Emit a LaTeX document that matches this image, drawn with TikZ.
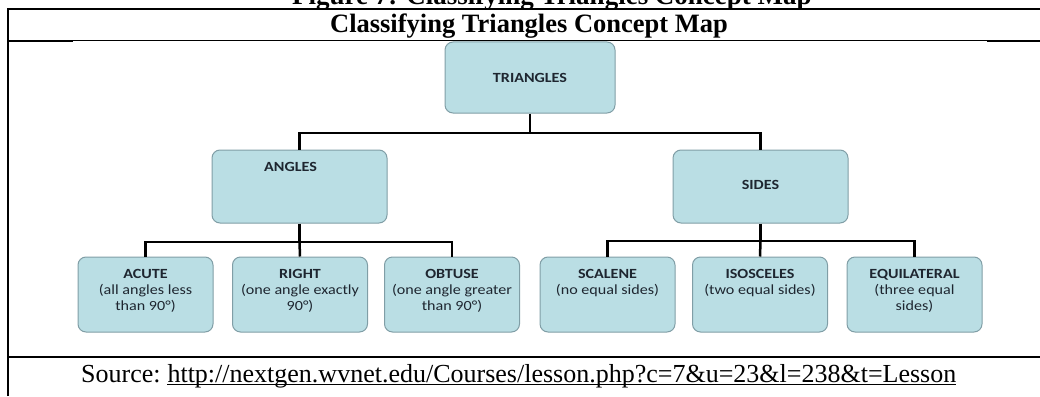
\documentclass[tikz,border=0pt]{standalone}
\usepackage{fontspec}
\setmainfont{Liberation Serif}
\newfontfamily\boxfont[FakeStretch=1.15]{Carlito}
\definecolor{boxfill}{RGB}{186,222,228}
\definecolor{boxline}{RGB}{128,158,166}
\definecolor{boxtext}{RGB}{30,38,48}
\tikzset{
  cbox/.style={draw=boxline, line width=1pt, fill=boxfill, rounded corners=8pt, inner sep=0pt},
  topbox/.style={cbox, minimum width=175pt, minimum height=73pt},
  leafbox/.style={cbox, minimum width=135pt, minimum height=75pt},
  lbl/.style={font=\boxfont\fontsize{14}{16}\selectfont, text=boxtext, inner sep=0pt, align=center},
  conn/.style={line width=2.5pt, draw=black},
  rule/.style={line width=#1, draw=black},
}
\begin{document}
\begin{tikzpicture}[x=1pt,y=-1pt]
\useasboundingbox (0,0) rectangle (1040,396);
\clip (0,0) rectangle (1040,396);

% frame
\draw[rule=2pt] (8,396) -- (8,9) -- (1041,9);
\draw[rule=1pt] (8,41) -- (1041,41);
\draw[rule=2pt] (8,41) -- (73,41);
\draw[rule=2pt] (987,41) -- (1041,41);
\draw[rule=2.5pt] (8,357) -- (1041,357);

% titles
\node[font=\bfseries\fontsize{27}{30}\selectfont, anchor=base west, inner sep=0pt] (fig) at (292,5) {Figure 7: Classifying Triangles Concept Map};
\node[font=\bfseries\fontsize{26.5}{30}\selectfont, anchor=base, inner sep=0pt] (hdr) at (529,33) {Classifying Triangles Concept Map};

% boxes
\node[cbox, minimum width=170pt, minimum height=71pt] (tri) at (530,77.5) {};
\node[topbox] (ang) at (299.5,186.5) {};
\node[topbox] (sid) at (760.5,186.5) {};
\node[leafbox] (acu) at (145.5,294.5) {};
\node[leafbox] (rig) at (300,294.5) {};
\node[leafbox] (obt) at (452,294.5) {};
\node[leafbox] (sca) at (607.5,294.5) {};
\node[leafbox] (iso) at (760,294.5) {};
\node[leafbox] (equ) at (914.5,294.5) {};

% labels
\node[lbl] (tritxt) at (tri.center) {\textbf{TRIANGLES}};
\node[lbl, anchor=north] (angtxt) at ([xshift=-9pt,yshift=-13pt]ang.north) {\textbf{ANGLES}};
\node[lbl] (sidtxt) at ([yshift=1.5pt]sid.center) {\textbf{SIDES}};
\node[lbl, anchor=north] (acutxt) at ([yshift=-12.5pt]acu.north) {\textbf{ACUTE}\\(all angles less\\than 90°)};
\node[lbl, anchor=north] (rigtxt) at ([yshift=-12.5pt]rig.north) {\textbf{RIGHT}\\(one angle exactly\\90°)};
\node[lbl, anchor=north] (obttxt) at ([yshift=-12.5pt]obt.north) {\textbf{OBTUSE}\\(one angle greater\\than 90°)};
\node[lbl, anchor=north] (scatxt) at ([yshift=-12.5pt]sca.north) {\textbf{SCALENE}\\(no equal sides)};
\node[lbl, anchor=north] (isotxt) at ([yshift=-12.5pt]iso.north) {\textbf{ISOSCELES}\\(two equal sides)};
\node[lbl, anchor=north] (equtxt) at ([yshift=-12.5pt]equ.north) {\textbf{EQUILATERAL}\\(three equal\\sides)};

% connectors
\coordinate (j0) at (530,133);
\coordinate (ja) at (299.5,242);
\coordinate (js) at (760.5,241);
\draw[conn] (tri.south) -- (j0);
\draw[conn] (ang.north) |- (j0) -| (sid.north);
\draw[conn] (ang.south) -- (ja);
\draw[conn] (acu.north) |- (ja) -| (obt.north);
\draw[conn] (ja) -- (rig.north);
\draw[conn] (sid.south) -- (js);
\draw[conn] (sca.north) |- (js) -| (equ.north);
\draw[conn] (js) -- (iso.north);

% source
\node[font=\fontsize{26}{29}\selectfont, anchor=base west, inner sep=0pt] (src) at (81,382) {Source:};
\node[font=\fontsize{26}{29}\selectfont, anchor=base west, inner sep=0pt] (url) at ([xshift=6.5pt]src.base east) {http://nextgen.wvnet.edu/Courses/lesson.php?c=7\&u=23\&l=238\&t=Lesson};
\draw[line width=1.3pt] ([yshift=-2.5pt]url.base west) -- ([yshift=-2.5pt]url.base east);
\end{tikzpicture}
\end{document}
